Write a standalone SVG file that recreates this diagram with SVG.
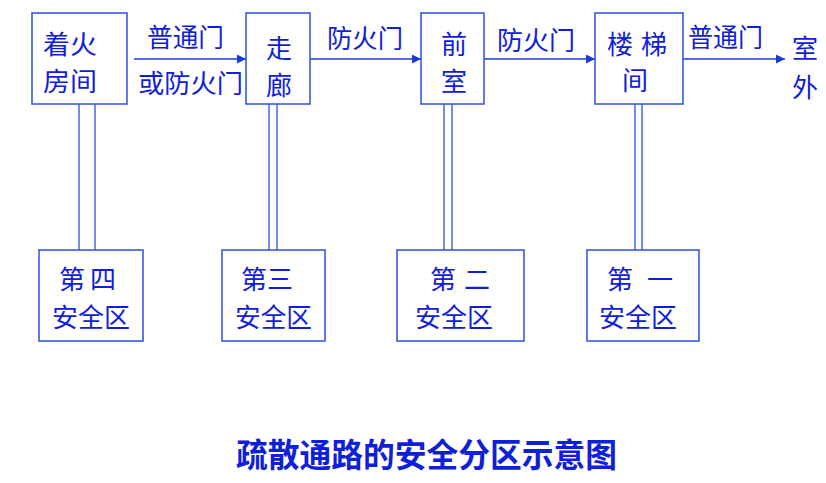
<svg xmlns="http://www.w3.org/2000/svg" width="826" height="483" viewBox="0 0 826 483">
<style>
.box{fill:#fff;stroke:#3a5ae0;stroke-width:1.6}
.t{font-family:"Noto Sans CJK SC","Noto Sans",sans-serif;font-size:26px;fill:#1020d8}
.ttl{font-family:"Noto Sans CJK SC","Noto Sans",sans-serif;font-size:33px;font-weight:bold;fill:#1020d8}
.ln{stroke:#1a3ad8;stroke-width:1.6;fill:none}
.dl{stroke:#5070e8;stroke-width:1.6;fill:none}
</style>
<defs>
<marker id="ah" viewBox="0 0 10 10" refX="10" refY="5" markerWidth="10" markerHeight="9" markerUnits="userSpaceOnUse" orient="auto">
<path d="M0,0 L10,5 L0,10 z" fill="#1a3ad8"/>
</marker>
</defs>
<rect width="826" height="483" fill="#fff"/>
<g id="connectors">
<line class="ln" x1="134" y1="59" x2="246" y2="59" marker-end="url(#ah)"/>
<line class="ln" x1="310" y1="59" x2="421" y2="59" marker-end="url(#ah)"/>
<line class="ln" x1="484" y1="59" x2="595" y2="59" marker-end="url(#ah)"/>
<line class="ln" x1="674" y1="59" x2="785" y2="59" marker-end="url(#ah)"/>
<line class="dl" x1="79" y1="104" x2="79" y2="250"/>
<line class="dl" x1="95" y1="104" x2="95" y2="250"/>
<line class="dl" x1="269" y1="104" x2="269" y2="250"/>
<line class="dl" x1="277" y1="104" x2="277" y2="250"/>
<line class="dl" x1="444" y1="104" x2="444" y2="250"/>
<line class="dl" x1="452" y1="104" x2="452" y2="250"/>
<line class="dl" x1="635" y1="104" x2="635" y2="250"/>
<line class="dl" x1="642" y1="104" x2="642" y2="250"/>
<text class="t" x="147" y="47" textLength="77" lengthAdjust="spacingAndGlyphs">普通门</text>
<text class="t" x="138" y="93" textLength="105" lengthAdjust="spacingAndGlyphs">或防火门</text>
<text class="t" x="327" y="48" textLength="76" lengthAdjust="spacingAndGlyphs">防火门</text>
<text class="t" x="497" y="50" textLength="78" lengthAdjust="spacingAndGlyphs">防火门</text>
<text class="t" x="688" y="47" textLength="75" lengthAdjust="spacingAndGlyphs">普通门</text>
</g>
<g id="n1">
<rect class="box" x="32" y="13" width="95" height="91"/>
<text class="t" x="43" y="54" textLength="54" lengthAdjust="spacingAndGlyphs">着火</text>
<text class="t" x="43" y="91" textLength="54" lengthAdjust="spacingAndGlyphs">房间</text>
</g>
<g id="n2">
<rect class="box" x="246" y="13" width="64" height="91"/>
<text class="t" x="266" y="58">走</text>
<text class="t" x="266" y="95">廊</text>
</g>
<g id="n3">
<rect class="box" x="421" y="13" width="63" height="91"/>
<text class="t" x="441" y="54">前</text>
<text class="t" x="441" y="91">室</text>
</g>
<g id="n4">
<rect class="box" x="595" y="13" width="88" height="91"/>
<text class="t" x="607" y="54" textLength="60" lengthAdjust="spacing">楼梯</text>
<text class="t" x="622" y="90">间</text>
</g>
<g id="n5">
<text class="t" x="792" y="58">室</text>
<text class="t" x="792" y="97">外</text>
</g>
<g id="z4">
<rect class="box" x="39" y="250" width="104" height="91"/>
<text class="t" x="59" y="289" textLength="57" lengthAdjust="spacing">第四</text>
<text class="t" x="52" y="327" textLength="78" lengthAdjust="spacingAndGlyphs">安全区</text>
</g>
<g id="z3">
<rect class="box" x="222" y="250" width="103" height="91"/>
<text class="t" x="241" y="289" textLength="52" lengthAdjust="spacingAndGlyphs">第三</text>
<text class="t" x="235" y="327" textLength="77" lengthAdjust="spacingAndGlyphs">安全区</text>
</g>
<g id="z2">
<rect class="box" x="397" y="250" width="127" height="91"/>
<text class="t" x="430" y="289" textLength="60" lengthAdjust="spacing">第二</text>
<text class="t" x="415" y="327" textLength="78" lengthAdjust="spacingAndGlyphs">安全区</text>
</g>
<g id="z1">
<rect class="box" x="587" y="250" width="112" height="91"/>
<text class="t" x="607" y="289" textLength="66" lengthAdjust="spacing">第一</text>
<text class="t" x="599" y="327" textLength="78" lengthAdjust="spacingAndGlyphs">安全区</text>
</g>
<g id="title">
<text class="ttl" x="236" y="467" textLength="381" lengthAdjust="spacingAndGlyphs">疏散通路的安全分区示意图</text>
</g>
</svg>
